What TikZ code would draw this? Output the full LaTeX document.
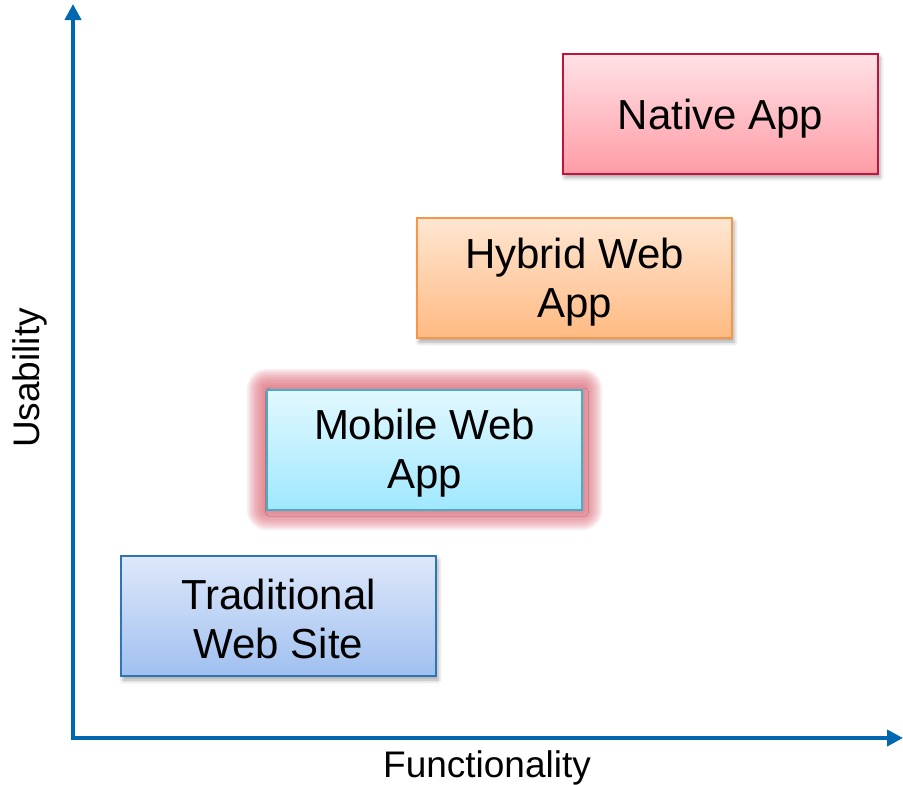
\documentclass[tikz,border=0pt]{standalone}
\usepackage{fontspec}
\setmainfont{Liberation Sans}
\usetikzlibrary{arrows.meta,shadows.blur}
\definecolor{axisblue}{RGB}{0,104,176}
\definecolor{natTop}{RGB}{255,226,230}
\definecolor{natBot}{RGB}{255,156,166}
\definecolor{natLine}{RGB}{192,20,60}
\definecolor{hybTop}{RGB}{255,230,210}
\definecolor{hybBot}{RGB}{255,186,130}
\definecolor{hybLine}{RGB}{247,150,70}
\definecolor{mobTop}{RGB}{226,248,255}
\definecolor{mobBot}{RGB}{160,232,255}
\definecolor{mobLine}{RGB}{75,172,198}
\definecolor{traTop}{RGB}{222,232,250}
\definecolor{traBot}{RGB}{160,192,240}
\definecolor{traLine}{RGB}{46,117,182}
\definecolor{glowred}{RGB}{218,100,114}
\tikzset{
  appbox/.style={draw, line width=2pt, minimum width=315pt, minimum height=120pt,
    inner sep=0pt,
    blur shadow={shadow xshift=2pt, shadow yshift=-4pt, shadow blur radius=4pt, shadow opacity=35}},
  boxtext/.style={align=center, font=\fontsize{42}{49}\selectfont, inner sep=0pt, text=black},
  axisline/.style={axisblue, line width=4pt, -{Triangle[length=16pt,width=16pt]}},
  axislabel/.style={font=\fontsize{37}{42}\selectfont}
}
\begin{document}
\begin{tikzpicture}[x=1pt,y=-1pt]
\useasboundingbox (0,0) rectangle (903,785);
% axes
\coordinate (o) at (73,738);
\coordinate (ytip) at (73,4);
\coordinate (xtip) at (903,738);
\draw[axisline] ([yshift=-2pt]o) -- (ytip);
\draw[axisline] ([xshift=-2pt]o) -- (xtip);
\node[axislabel] (flab) at (487,768) {Functionality};
\node[axislabel, rotate=90] (ulab) at (30,378) {Usability};
% soft glow around the mobile web app box
\foreach \r in {20,18,...,2}
  \fill[glowred, opacity=0.13, rounded corners=\r pt] (267-\r,389-\r) rectangle (582+\r,510+\r);
% boxes
\node[appbox, top color=natTop, bottom color=natBot, natLine] (native) at (720.5,113.5) {};
\node[appbox, top color=hybTop, bottom color=hybBot, hybLine] (hybrid) at (574.5,278) {};
\node[appbox, top color=mobTop, bottom color=mobBot, mobLine, blur shadow={shadow opacity=0}] (mobile) at (424.5,449.5) {};
\node[appbox, top color=traTop, bottom color=traBot, traLine] (trad) at (278.5,616) {};
% box labels
\node[boxtext] (nativeT) at ([yshift=-5pt]native.center) {Native App};
\node[boxtext] (hybridT) at ([yshift=-4pt]hybrid.center) {Hybrid Web\\App};
\node[boxtext] (mobileT) at ([yshift=-4pt]mobile.center) {Mobile Web\\App};
\node[boxtext] (tradT) at ([yshift=-3pt]trad.center) {Traditional\\Web Site};
\end{tikzpicture}
\end{document}
